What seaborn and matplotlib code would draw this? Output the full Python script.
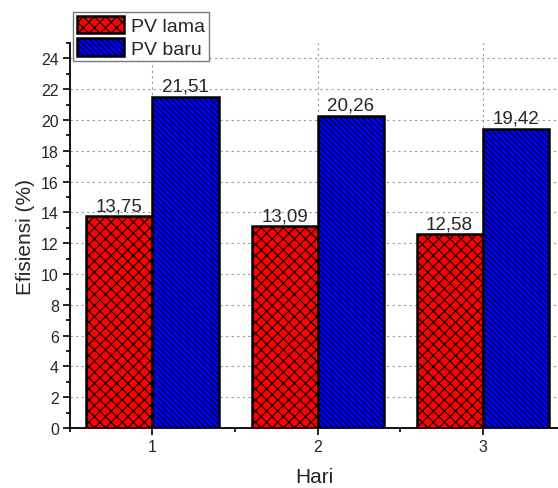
import matplotlib
matplotlib.use("Agg")
import matplotlib.pyplot as plt
import seaborn as sns
import pandas as pd
from matplotlib.ticker import MultipleLocator
from matplotlib.patches import Patch

# Efficiency per day for old and new PV panels
days = ["1", "2", "3"]
pv_lama = [13.75, 13.09, 12.58]
pv_baru = [21.51, 20.26, 19.42]
series_names = ["PV lama", "PV baru"]
y_ticks = list(range(0, 26, 2))

df = pd.DataFrame({
    "Hari": days * 2,
    "Efisiensi": pv_lama + pv_baru,
    "Seri": [series_names[0]] * len(days) + [series_names[1]] * len(days),
})

sns.set_style("ticks")
plt.rcParams["font.family"] = ["Liberation Sans", "DejaVu Sans"]
plt.rcParams["hatch.linewidth"] = 0.8

fig = plt.figure(figsize=(5.58, 4.89), dpi=100)
ax = fig.add_axes([0.1254, 0.1227, 0.8746, 0.7873])

colors = {"PV lama": "#ff0000", "PV baru": "#0000ff"}
hatches = {"PV lama": "xxx", "PV baru": "\\" * 6}

sns.barplot(data=df, x="Hari", y="Efisiensi", hue="Seri", order=days,
            hue_order=series_names, palette=colors, width=0.8,
            edgecolor="black", linewidth=1.8, saturation=1, ax=ax,
            legend=False, zorder=3)

for container, name in zip(ax.containers, series_names):
    for bar in container:
        bar.set_hatch(hatches[name])
    labels = [f"{v:.2f}".replace(".", ",") for v in container.datavalues]
    ax.bar_label(container, labels=labels, padding=1.5, fontsize=13.5, zorder=4)

ax.set_xlim(-0.5, 2.457)
ax.set_ylim(0, 25)
ax.set_yticks(y_ticks)
ax.yaxis.set_minor_locator(MultipleLocator(1))
ax.xaxis.set_minor_locator(MultipleLocator(0.5))
ax.set_xticks([0, 1, 2])
ax.set_xticklabels(days)

ax.grid(True, which="major", linestyle=(0, (2, 3)), color="#999999",
        linewidth=0.8, zorder=0)
ax.set_axisbelow(True)

for side in ["top", "right"]:
    ax.spines[side].set_visible(False)
for side in ["left", "bottom"]:
    ax.spines[side].set_linewidth(1.3)
    ax.spines[side].set_color("black")

ax.tick_params(axis="both", which="major", direction="out", length=5,
               width=1.2, labelsize=11.5, color="black", pad=3)
ax.tick_params(axis="both", which="minor", direction="out", length=3,
               width=1.2, color="black")

ax.set_xlabel("Hari", fontsize=15, labelpad=9)
ax.set_ylabel("Efisiensi (%)", fontsize=15, labelpad=4)

handles = [Patch(facecolor=colors[n], edgecolor="black", linewidth=1.8,
                 hatch=hatches[n], label=n) for n in series_names]
leg = fig.legend(handles=handles, loc="upper left",
                 bbox_to_anchor=(73 / 558, 1 - 13 / 489), fontsize=14,
                 frameon=True, fancybox=False, handlelength=2.4,
                 handleheight=1.0, handletextpad=0.4, borderpad=0.2,
                 labelspacing=0.15, borderaxespad=0)
leg.get_frame().set_edgecolor("#555555")
leg.get_frame().set_linewidth(1.0)

fig.savefig("out.png", dpi=100)
